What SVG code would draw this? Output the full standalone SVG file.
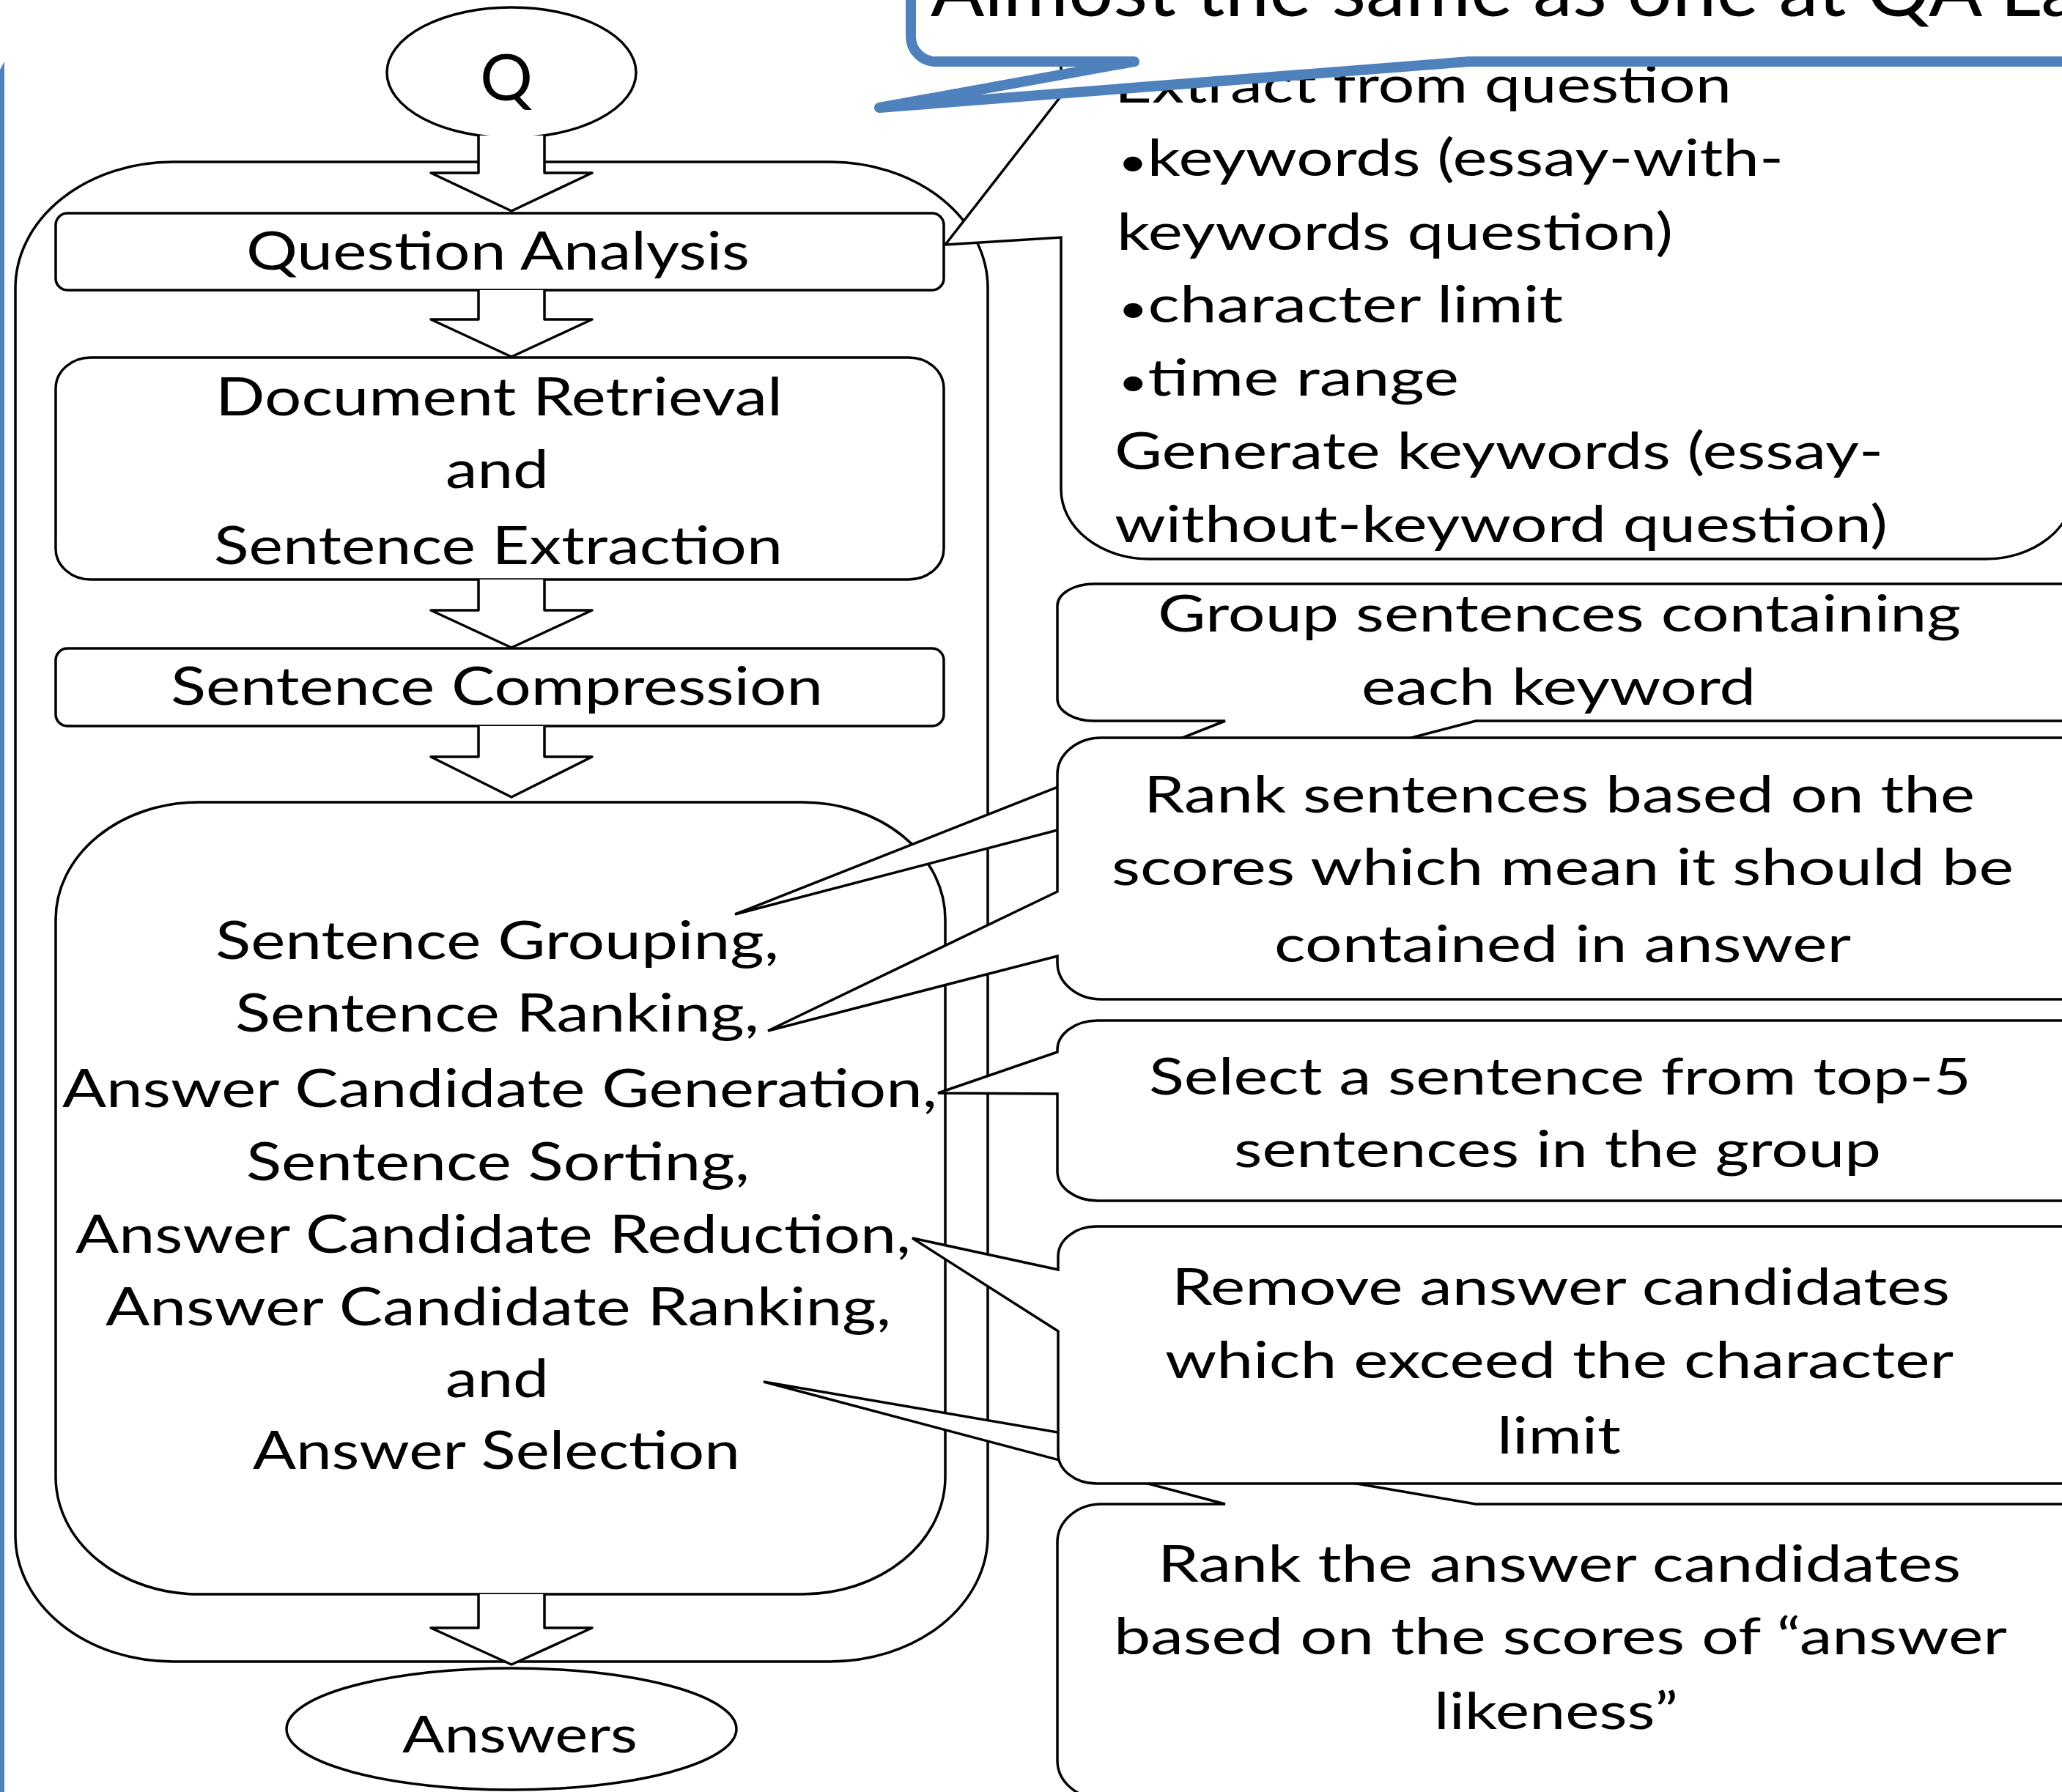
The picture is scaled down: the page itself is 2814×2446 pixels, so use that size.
<svg xmlns="http://www.w3.org/2000/svg" width="2814" height="2446" viewBox="0 0 2814 2446">
<style>
.ln{fill:#fff;stroke:#000;stroke-width:3.5;stroke-linejoin:round}
.cl{fill:#fff;stroke:#000;stroke-width:3.5;stroke-linejoin:miter}
.t{font-family:Lato,"Liberation Sans",sans-serif;font-size:72px;fill:#000}
.s{font-family:Lato,"Liberation Sans",sans-serif;font-size:70px;fill:#000}
.b{font-size:54px}
.blue{fill:#fff;stroke:#4f81bd;stroke-width:14;stroke-linejoin:round}
</style>
<rect width="2814" height="2446" fill="#fff"/>

<g id="container">
<rect class="ln" x="21" y="221" width="1327" height="2047" rx="215" ry="172"/>
</g>

<g id="q">
<ellipse class="ln" cx="698" cy="99" rx="170" ry="89"/>
<text class="t" x="655" y="137" style="font-size:88px" textLength="72" lengthAdjust="spacingAndGlyphs">Q</text>
</g>

<g id="question-analysis">
<rect class="ln" x="76" y="291" width="1212" height="105" rx="16" ry="16"/>
<text class="t" x="336" y="368" textLength="687" lengthAdjust="spacingAndGlyphs">Question Analysis</text>
</g>

<g id="document-retrieval">
<rect class="ln" x="76" y="488" width="1212" height="303" rx="48" ry="42"/>
<text class="t" x="294" y="567" textLength="774" lengthAdjust="spacingAndGlyphs">Document Retrieval</text>
<text class="t" x="608" y="666" textLength="141" lengthAdjust="spacingAndGlyphs">and</text>
<text class="t" x="292" y="770" textLength="776" lengthAdjust="spacingAndGlyphs">Sentence Extraction</text>
</g>

<g id="sentence-compression">
<rect class="ln" x="76" y="885" width="1212" height="106" rx="16" ry="16"/>
<text class="t" x="233" y="962" textLength="890" lengthAdjust="spacingAndGlyphs">Sentence Compression</text>
</g>

<g id="answer-processing">
<rect class="ln" x="76" y="1095" width="1214" height="1081" rx="195" ry="160"/>
<text class="t" x="294" y="1309" textLength="769" lengthAdjust="spacingAndGlyphs">Sentence Grouping,</text>
<text class="t" x="321" y="1408" textLength="715" lengthAdjust="spacingAndGlyphs">Sentence Ranking,</text>
<text class="t" x="85" y="1511" textLength="1194" lengthAdjust="spacingAndGlyphs">Answer Candidate Generation,</text>
<text class="t" x="336" y="1611" textLength="687" lengthAdjust="spacingAndGlyphs">Sentence Sorting,</text>
<text class="t" x="103" y="1710" textLength="1140" lengthAdjust="spacingAndGlyphs">Answer Candidate Reduction,</text>
<text class="t" x="144" y="1809" textLength="1072" lengthAdjust="spacingAndGlyphs">Answer Candidate Ranking,</text>
<text class="t" x="608" y="1907" textLength="141" lengthAdjust="spacingAndGlyphs">and</text>
<text class="t" x="345" y="2005" textLength="665" lengthAdjust="spacingAndGlyphs">Answer Selection</text>
</g>

<g id="answers">
<ellipse class="ln" cx="698" cy="2360" rx="307" ry="83"/>
<text class="t" x="549" y="2392" style="font-size:70px" textLength="321" lengthAdjust="spacingAndGlyphs">Answers</text>
</g>

<g id="connectors">
<path class="ln" d="M653,185 V236 H588 L698,288 L808,236 H743 V185"/>
<path class="ln" d="M653,396 V436 H588 L698,487 L808,436 H743 V396"/>
<path class="ln" d="M653,791 V833 H588 L698,884 L808,833 H743 V791"/>
<path class="ln" d="M653,991 V1033 H588 L698,1088 L808,1033 H743 V991"/>
<path class="ln" d="M653,2176 V2222 H588 L698,2272 L808,2222 H743 V2176"/>
</g>

<g id="callout-extract">
<path class="cl" d="M1448,84 H2830 V668 A120 95 0 0 1 2710,763 H1568 A120 95 0 0 1 1448,668 V324 L1290,334 L1448,131 Z"/>
<text class="s" x="1521" y="140" textLength="842" lengthAdjust="spacingAndGlyphs">Extract from question</text>
<text class="s" x="1526" y="240" textLength="908" lengthAdjust="spacingAndGlyphs"><tspan class="b">•</tspan>keywords (essay-with-</text>
<text class="s" x="1524" y="341" textLength="759" lengthAdjust="spacingAndGlyphs">keywords question)</text>
<text class="s" x="1526" y="440" textLength="607" lengthAdjust="spacingAndGlyphs"><tspan class="b">•</tspan>character limit</text>
<text class="s" x="1526" y="540" textLength="465" lengthAdjust="spacingAndGlyphs"><tspan class="b">•</tspan>time range</text>
<text class="s" x="1521" y="640" textLength="1049" lengthAdjust="spacingAndGlyphs">Generate keywords (essay-</text>
<text class="s" x="1521" y="740" textLength="1055" lengthAdjust="spacingAndGlyphs">without-keyword question)</text>
</g>

<g id="callout-group">
<path class="cl" d="M1493,797 H2830 V984 H2014 L1003,1248 L1672,984 H1493 A50 30 0 0 1 1443,954 V827 A50 30 0 0 1 1493,797 Z"/>
<text class="s" x="1580" y="862" textLength="1096" lengthAdjust="spacingAndGlyphs">Group sentences containing</text>
<text class="s" x="1858" y="962" textLength="538" lengthAdjust="spacingAndGlyphs">each keyword</text>
</g>

<g id="callout-rank-sentences">
<path class="cl" d="M1503,1007 H2830 V1364 H1503 A60 50 0 0 1 1443,1314 V1305 L1048,1407 L1443,1217 V1057 A60 50 0 0 1 1503,1007 Z"/>
<text class="s" x="1561" y="1109" textLength="1134" lengthAdjust="spacingAndGlyphs">Rank sentences based on the</text>
<text class="s" x="1517" y="1208" textLength="1231" lengthAdjust="spacingAndGlyphs">scores which mean it should be</text>
<text class="s" x="1739" y="1313" textLength="787" lengthAdjust="spacingAndGlyphs">contained in answer</text>
</g>

<g id="callout-select">
<path class="cl" d="M1498,1393 H2830 V1639 H1498 A55 40 0 0 1 1443,1599 V1493 L1280,1492 L1443,1436 V1433 A55 40 0 0 1 1498,1393 Z"/>
<text class="s" x="1568" y="1494" textLength="1122" lengthAdjust="spacingAndGlyphs">Select a sentence from top-5</text>
<text class="s" x="1684" y="1593" textLength="883" lengthAdjust="spacingAndGlyphs">sentences in the group</text>
</g>

<g id="callout-rank-answers">
<path class="cl" d="M1503,2053 H1672 L1042,1886 L2014,2053 H2830 V2455 H1503 A60 52 0 0 1 1443,2403 V2105 A60 52 0 0 1 1503,2053 Z"/>
<text class="s" x="1580" y="2159" textLength="1096" lengthAdjust="spacingAndGlyphs">Rank the answer candidates</text>
<text class="s" x="1520" y="2258" textLength="1219" lengthAdjust="spacingAndGlyphs">based on the scores of “answer</text>
<text class="s" x="1957" y="2360" textLength="333" lengthAdjust="spacingAndGlyphs">likeness”</text>
</g>

<g id="callout-remove">
<path class="cl" d="M1496,1674 H2830 V2025 H1496 A52 41 0 0 1 1444,1984 V1817 L1245,1690 L1444,1733 V1715 A52 41 0 0 1 1496,1674 Z"/>
<text class="s" x="1599" y="1781" textLength="1062" lengthAdjust="spacingAndGlyphs">Remove answer candidates</text>
<text class="s" x="1590" y="1881" textLength="1076" lengthAdjust="spacingAndGlyphs">which exceed the character</text>
<text class="s" x="2043" y="1984" textLength="169" lengthAdjust="spacingAndGlyphs">limit</text>
</g>

<g id="blue-callout">
<path class="blue" d="M1243,-60 V50 A34 34 0 0 0 1277,84 H1548 L1200,147 L2005,84 H2900 V-60 Z"/>
<text class="t" x="1270" y="22" style="font-size:100px" textLength="1569" lengthAdjust="spacingAndGlyphs">Almost the same as one at QA La</text>
</g>

<g id="blue-edge">
<polygon points="0,95 6,84 6,2446 0,2446" fill="#4f81bd"/>
</g>
</svg>
